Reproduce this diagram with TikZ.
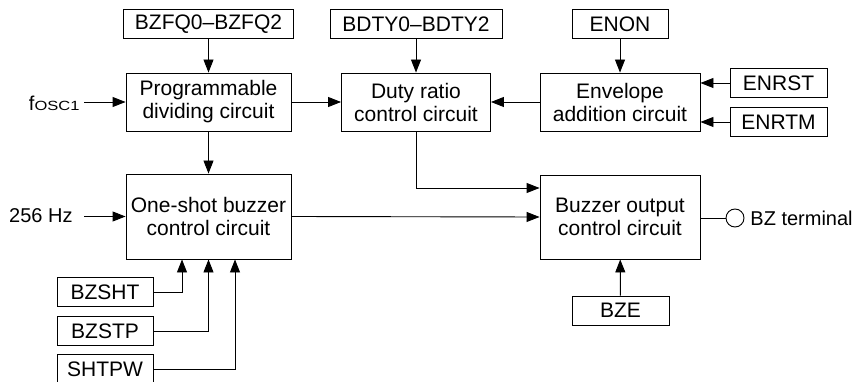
\documentclass[tikz,border=0pt]{standalone}
\usepackage{fontspec}
\setmainfont{Liberation Sans}
\usetikzlibrary{arrows.meta}
\begin{document}
\begin{tikzpicture}[x=1pt,y=-1pt,line width=.9pt,font=\fontsize{21}{23}\selectfont,
  blk/.style={draw,align=center,inner sep=0pt},
  reg/.style={blk,minimum height=29pt},
  >={Triangle[length=13pt,width=10pt]}]
\useasboundingbox(0,0)rectangle(862,382);
% circuits
\node[blk,minimum width=165pt,minimum height=58pt](prog)at(208.5,102){Programmable\\dividing circuit};
\node[blk,minimum width=149pt,minimum height=58pt](duty)at(416,102){Duty ratio\\control circuit};
\node[blk,minimum width=160pt,minimum height=58pt](env)at(620,102){Envelope\\addition circuit};
\node[blk,minimum width=165pt,minimum height=85pt](one)at(208.5,216.5){One-shot buzzer\\control circuit};
\node[blk,minimum width=160pt,minimum height=84pt](buz)at(620,217){Buzzer output\\control circuit};
% registers
\node[reg,minimum width=170pt](bzfq)at(208.5,24){BZFQ0--BZFQ2};
\node[reg,minimum width=172pt](bdty)at(416,24){BDTY0--BDTY2};
\node[reg,minimum width=96pt](enon)at(620,24){ENON};
\node[reg,minimum width=97pt](enrst)at(778.5,83){ENRST};
\node[reg,minimum width=97pt](enrtm)at(778.5,122){ENRTM};
\node[reg,minimum width=96pt](bzsht)at(105,292){BZSHT};
\node[reg,minimum width=96pt](bzstp)at(105,331){BZSTP};
\node[reg,minimum width=96pt](shtpw)at(105,369){SHTPW};
\node[reg,minimum width=97pt](bze)at(620.5,310.5){BZE};
% inputs and output
\node[anchor=base east,inner sep=0pt,font=\fontsize{20}{20}\selectfont](fosc)at(80,110.5){f\resizebox{45pt}{9.3pt}{OSC1}};
\node[anchor=east,inner sep=0pt,font=\fontsize{20}{20}\selectfont](hz)at(73,216){256 Hz};
\node[draw,circle,minimum size=18pt,inner sep=0pt](bz)at(735,218){};
\node[anchor=west,inner sep=0pt,font=\fontsize{20}{20}\selectfont](bzlbl)at(750,218){BZ terminal};
% connections
\draw[->](bzfq)--(prog);
\draw[->](bdty)--(duty);
\draw[->](enon)--(env);
\draw[->](enrst.west)--(env.east|-enrst.west);
\draw[->](enrtm.west)--(env.east|-enrtm.west);
\draw[->](env)--(duty);
\draw[->](prog)--(duty);
\draw[->](prog)--(one);
\draw[->]([xshift=4pt]fosc.east|-prog.west)--(prog.west);
\draw[->]([xshift=11pt]hz.east|-one.west)--(one.west);
\draw[->](one.east)--(buz.west);
\draw[->](duty.south)|-([yshift=29pt]buz.west);
\draw[->](bzsht.east)-|([xshift=-26.5pt]one.south);
\draw[->](bzstp.east)-|(one.south);
\draw[->](shtpw.east)-|([xshift=26.5pt]one.south);
\draw[->](bze)--(buz);
\draw(buz.east|-bz.west)--(bz.west);
\end{tikzpicture}
\end{document}
